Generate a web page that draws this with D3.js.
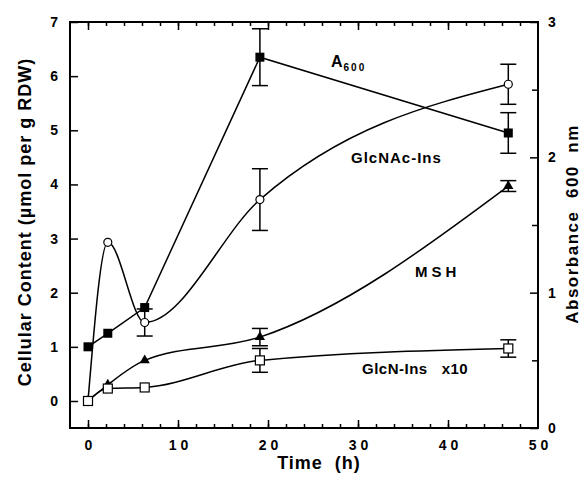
<!DOCTYPE html>
<meta charset="utf-8">
<script src="https://d3js.org/d3.v7.min.js"></script>
<style>
  body { margin: 0; background: #fff; }
  text { font-family: "Liberation Sans", Arial, Helvetica, sans-serif; font-weight: bold; fill: #000; }
</style>
<svg id="chart" width="582" height="487"></svg>
<script>
// sampling times (h)
var time = [0, 2.2, 6.3, 19.1, 46.7];

// A600, read on the right axis
var a600 = [0.60, 0.70, 0.89, 2.74, 2.18];
var a600Err = [0, 0, 0, 0.21, 0.15];

// cellular content, left axis
var glcnac = [0, 2.93, 1.45, 3.72, 5.85];
var glcnacErr = [0, 0, 0.25, 0.57, 0.37];
var msh = [0, 0.30, 0.75, 1.18, 3.97];
var mshErr = [0, 0, 0, 0.16, 0.10];
var glcn = [0, 0.23, 0.25, 0.75, 0.97];
var glcnErr = [0, 0, 0, 0.22, 0.16];

var xTicks = [0, 10, 20, 30, 40, 50];
var leftTicks = [0, 1, 2, 3, 4, 5, 6, 7];
var rightTicks = [0, 1, 2, 3];

const svg = d3.select("#chart");
const frame = { left: 70, right: 538, top: 22, bottom: 428 };

const x = d3.scaleLinear().domain([0, 50]).range([88, 538]);
const yL = d3.scaleLinear().domain([0, 7]).range([401, 22]);
const yR = d3.scaleLinear().domain([0, 3]).range([428, 22]);

// frame
svg.append("rect")
  .attr("x", frame.left).attr("y", frame.top)
  .attr("width", frame.right - frame.left).attr("height", frame.bottom - frame.top)
  .attr("fill", "none").attr("stroke", "#000").attr("stroke-width", 2);

function styleAxis(g) {
  g.select(".domain").remove();
  g.selectAll("line").attr("stroke", "#000").attr("stroke-width", 1.5);
  g.selectAll("text").attr("font-size", 14);
}

// x axes, ticks pointing inward
svg.append("g").attr("transform", `translate(0,${frame.bottom})`)
  .call(d3.axisBottom(x).tickValues(d3.range(0, 50, 2)).tickSize(-4).tickFormat(""))
  .call(styleAxis);
svg.append("g").attr("transform", `translate(0,${frame.bottom})`)
  .call(d3.axisBottom(x).tickValues(xTicks.slice(0, 5)).tickSize(-8).tickFormat(""))
  .call(styleAxis);
const xl = svg.append("g").attr("transform", `translate(0,${frame.bottom})`)
  .call(d3.axisBottom(x).tickValues(xTicks).tickSize(0).tickPadding(12).tickFormat(d3.format("d")))
  .call(styleAxis);
xl.selectAll("text").attr("letter-spacing", "4px").attr("dx", 2);

svg.append("g").attr("transform", `translate(0,${frame.top})`)
  .call(d3.axisTop(x).tickValues(d3.range(0, 50, 2)).tickSize(-4).tickFormat(""))
  .call(styleAxis);
svg.append("g").attr("transform", `translate(0,${frame.top})`)
  .call(d3.axisTop(x).tickValues(xTicks.slice(0, 5)).tickSize(-8).tickFormat(""))
  .call(styleAxis);

// left axis
svg.append("g").attr("transform", `translate(${frame.left},0)`)
  .call(d3.axisLeft(yL).tickValues(leftTicks).tickSize(-8).tickPadding(12).tickFormat(d3.format("d")))
  .call(styleAxis);

// right axis
svg.append("g").attr("transform", `translate(${frame.right},0)`)
  .call(d3.axisRight(yR).tickValues(d3.range(0.5, 3, 1)).tickSize(-6).tickFormat(""))
  .call(styleAxis);
svg.append("g").attr("transform", `translate(${frame.right},0)`)
  .call(d3.axisRight(yR).tickValues(rightTicks).tickSize(-8).tickPadding(10).tickFormat(d3.format("d")))
  .call(styleAxis);

// axis titles
svg.append("text").attr("x", 319).attr("y", 469)
  .attr("text-anchor", "middle").attr("font-size", 18).attr("letter-spacing", "1px")
  .attr("xml:space", "preserve").text("Time  (h)");
svg.append("text").attr("transform", "translate(31,222) rotate(-90)")
  .attr("text-anchor", "middle").attr("font-size", 18).attr("letter-spacing", "1px")
  .text("Cellular Content (\u00b5mol per g RDW)");
svg.append("text").attr("transform", "translate(578,224) rotate(-90)")
  .attr("text-anchor", "middle").attr("font-size", 17).attr("letter-spacing", "1.5px")
  .attr("xml:space", "preserve").text("Absorbance  600  nm");

function series(vals, errs, y, curve) {
  const pts = time.map((t, i) => ({ t: t, v: vals[i], e: errs[i] }));
  svg.append("path").datum(pts)
    .attr("fill", "none").attr("stroke", "#000").attr("stroke-width", 1.5)
    .attr("d", d3.line().x(d => x(d.t)).y(d => y(d.v)).curve(curve));
  const eb = svg.append("g").selectAll("g").data(pts.filter(d => d.e > 0)).enter().append("g")
    .attr("stroke", "#000").attr("stroke-width", 1.5);
  eb.append("line").attr("x1", d => x(d.t)).attr("x2", d => x(d.t))
    .attr("y1", d => y(d.v - d.e)).attr("y2", d => y(d.v + d.e));
  [1, -1].forEach(s => {
    eb.append("line").attr("x1", d => x(d.t) - 8).attr("x2", d => x(d.t) + 8)
      .attr("y1", d => y(d.v + s * d.e)).attr("y2", d => y(d.v + s * d.e));
  });
  return pts;
}

const pA = series(a600, a600Err, yR, d3.curveLinear);
const pC = series(glcnac, glcnacErr, yL, d3.curveMonotoneX);
const pM = series(msh, mshErr, yL, d3.curveMonotoneX);
const pG = series(glcn, glcnErr, yL, d3.curveMonotoneX);

// markers
svg.append("g").selectAll("rect").data(pA).enter().append("rect")
  .attr("x", d => x(d.t) - 4.5).attr("y", d => yR(d.v) - 4.5)
  .attr("width", 9).attr("height", 9).attr("fill", "#000");
svg.append("g").selectAll("circle").data(pC).enter().append("circle")
  .attr("cx", d => x(d.t)).attr("cy", d => yL(d.v)).attr("r", 4)
  .attr("fill", "#fff").attr("stroke", "#000").attr("stroke-width", 1.2);
svg.append("g").selectAll("path").data(pM).enter().append("path")
  .attr("transform", d => `translate(${x(d.t)},${yL(d.v)})`)
  .attr("d", d3.symbol(d3.symbolTriangle, 45)).attr("fill", "#000");
svg.append("g").selectAll("rect").data(pG).enter().append("rect")
  .attr("x", d => x(d.t) - 4.5).attr("y", d => yL(d.v) - 4.5)
  .attr("width", 9).attr("height", 9).attr("fill", "#fff")
  .attr("stroke", "#000").attr("stroke-width", 1.2);

// series labels
const a = svg.append("text").attr("x", 331).attr("y", 67).attr("font-size", 16);
a.append("tspan").text("A");
a.append("tspan").attr("font-size", 10).attr("dy", 4).attr("letter-spacing", "2px").attr("dx", 1).text("600");
svg.append("text").attr("x", 351).attr("y", 163).attr("font-size", 15).attr("letter-spacing", "1px").text("GlcNAc-Ins");
svg.append("text").attr("x", 415).attr("y", 277).attr("font-size", 15).attr("letter-spacing", "4px").text("MSH");
svg.append("text").attr("x", 362).attr("y", 374).attr("font-size", 15).attr("letter-spacing", "0.5px").attr("xml:space", "preserve").text("GlcN-Ins   x10");
</script>
